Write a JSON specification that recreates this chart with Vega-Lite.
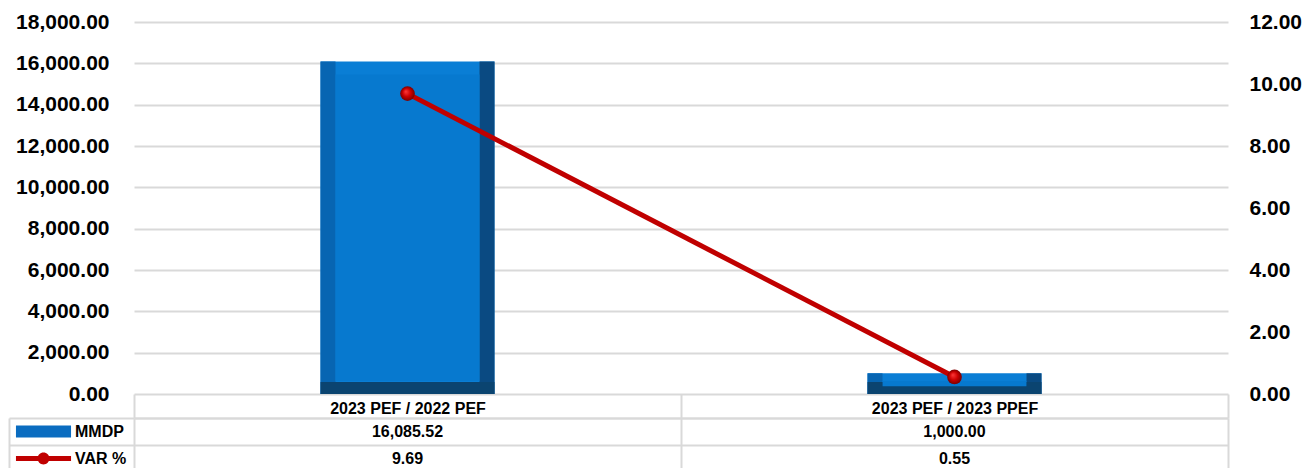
{
  "$schema": "https://vega.github.io/schema/vega-lite/v6.json",
  "padding": {"left": 8, "top": 11, "right": 0, "bottom": 0},
  "background": "white",
  "spacing": 24,
  "bounds": "flush",
  "data": {"values": [
    {"cat": "2023 PEF / 2022 PEF", "MMDP": 16085.52, "VAR %": 9.69},
    {"cat": "2023 PEF / 2023 PPEF", "MMDP": 1000.00, "VAR %": 0.55}
  ]},
  "config": {
    "font": "Liberation Sans",
    "view": {"stroke": null},
    "axis": {"labelFont": "Liberation Sans", "labelFontWeight": "bold", "labelColor": "#000000", "title": null}
  },
  "vconcat": [
    {
      "width": 1094,
      "height": 372,
      "encoding": {
        "x": {"field": "cat", "type": "nominal", "sort": null, "scale": {"paddingInner": 0, "paddingOuter": 0}, "axis": null}
      },
      "layer": [
        {
          "layer": [
            {
              "mark": {"type": "bar", "width": {"band": 0.318}, "color": "#0a7ed5"},
              "encoding": {
                "y": {"field": "MMDP", "type": "quantitative", "scale": {"domain": [0, 18000]},
                  "axis": {"orient": "left", "values": [0, 2000, 4000, 6000, 8000, 10000, 12000, 14000, 16000, 18000], "format": ",.2f", "grid": true, "gridColor": "#d9d9d9", "gridWidth": 2, "domain": false, "ticks": false, "labelFontSize": 21, "labelPadding": 25}}
              }
            },
            {
              "mark": {"type": "bar", "width": 15, "xOffset": -79.5, "color": "#0765b2"},
              "encoding": {"y": {"field": "MMDP", "type": "quantitative"}}
            },
            {
              "mark": {"type": "bar", "width": 15, "xOffset": 79.5, "color": "#0a4a82"},
              "encoding": {"y": {"field": "MMDP", "type": "quantitative"}}
            },
            {
              "mark": {"type": "bar", "width": {"band": 0.318}, "y2Offset": -12, "color": "#0b4470"},
              "encoding": {"y": {"datum": 0, "type": "quantitative"}, "y2": {"datum": 0}}
            },
            {
              "mark": {"type": "bar", "width": {"band": 0.263}, "yOffset": 13, "y2Offset": -13, "color": "#0779cf"},
              "encoding": {"y": {"field": "MMDP", "type": "quantitative"}, "y2": {"datum": 0}}
            }
          ]
        },
        {
          "layer": [
            {
              "mark": {"type": "line", "color": "#c00000", "strokeWidth": 5},
              "encoding": {
                "y": {"field": "VAR %", "type": "quantitative", "scale": {"domain": [0, 12]},
                  "axis": {"orient": "right", "values": [0, 2, 4, 6, 8, 10, 12], "format": ".2f", "grid": false, "domain": false, "ticks": false, "labelFontSize": 21, "labelPadding": 21}}
              }
            },
            {
              "mark": {"type": "point", "filled": true, "size": 215, "opacity": 1, "strokeWidth": 0,
                "fill": {"gradient": "radial", "x1": 0.38, "y1": 0.35, "r1": 0, "x2": 0.5, "y2": 0.5, "r2": 0.5,
                  "stops": [{"offset": 0, "color": "#ff3a3a"}, {"offset": 0.55, "color": "#cc0000"}, {"offset": 1, "color": "#7a0000"}]}},
              "encoding": {"y": {"field": "VAR %", "type": "quantitative"}}
            }
          ]
        }
      ],
      "resolve": {"scale": {"y": "independent"}}
    },
    {
      "width": 1094,
      "height": 54,
      "transform": [{"fold": ["MMDP", "VAR %"], "as": ["key", "value"]}],
      "encoding": {
        "x": {"field": "cat", "type": "nominal", "sort": null, "scale": {"paddingInner": 0, "paddingOuter": 0},
          "axis": {"orient": "top", "tickBand": "extent", "ticks": true, "tickSize": 24, "tickColor": "#d9d9d9", "tickWidth": 2, "domain": true, "domainColor": "#d9d9d9", "domainWidth": 2, "grid": true, "gridColor": "#d9d9d9", "gridWidth": 2, "labelFontSize": 16, "labelPadding": -19, "labelBaseline": "alphabetic", "labelAngle": 0}},
        "y": {"field": "key", "type": "nominal", "sort": ["MMDP", "VAR %"], "scale": {"paddingInner": 0, "paddingOuter": 0},
          "axis": {"labels": false, "tickBand": "extent", "ticks": true, "tickSize": -125, "offset": 125, "domain": true, "domainColor": "#d9d9d9", "domainWidth": 2, "tickColor": "#d9d9d9", "tickWidth": 2, "grid": true, "gridColor": "#d9d9d9", "gridWidth": 2}}
      },
      "layer": [
        {
          "mark": {"type": "text", "font": "Liberation Sans", "fontWeight": "bold", "fontSize": 16, "color": "#000000"},
          "encoding": {"text": {"field": "value", "type": "quantitative", "format": ",.2f"}}
        },
        {
          "mark": {"type": "text", "text": ""},
          "encoding": {
            "color": {"field": "key", "type": "nominal",
              "scale": {"domain": ["MMDP", "VAR %"], "range": ["#0a6cc0", "#c00000"]},
              "legend": {"orient": "none", "legendX": -104, "legendY": 396, "title": null, "direction": "vertical", "padding": 0,
                "symbolSize": 729, "symbolStrokeWidth": 0, "rowPadding": 5, "labelOffset": 18,
                "labelFont": "Liberation Sans", "labelFontWeight": "bold", "labelFontSize": 16, "labelColor": "#000000",
                "encode": {"symbols": {"update": {
                  "shape": {"signal": "datum.label === 'MMDP' ? 'M-2.04,-0.44H2.04V0.44H-2.04Z' : 'M-2.04,-0.185H2.04V0.185H-2.04ZM0,-0.44A0.44,0.44,0,1,1,0,0.44A0.44,0.44,0,1,1,0,-0.44Z'"},
                  "opacity": {"value": 1}
                }}}}}
          }
        }
      ]
    }
  ]
}
